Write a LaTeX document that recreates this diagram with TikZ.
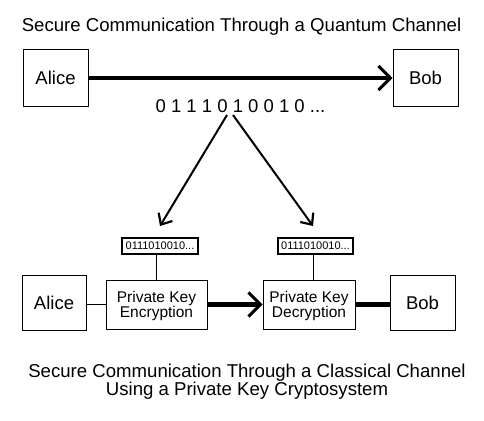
\documentclass[tikz,border=0pt]{standalone}
\usepackage{fontspec}
\setmainfont{Liberation Sans}
\usetikzlibrary{arrows.meta}
\tikzset{
  box/.style={draw, line width=0.9pt, inner sep=0pt, font=\fontsize{18.5}{20}\selectfont},
  procbox/.style={draw, line width=0.9pt, inner sep=0pt, align=center, font=\fontsize{15.5}{15}\selectfont},
  keybox/.style={draw, line width=2pt, inner sep=0pt, minimum width=75pt, minimum height=16pt, font=\fontsize{11}{12}\selectfont},
  titletext/.style={anchor=base, inner sep=0pt, font=\fontsize{18.6}{18}\selectfont, align=center},
  bigarrow/.style={line width=4.5pt, -{Straight Barb[length=12pt,width=24pt,line width=3pt]}},
  midarrow/.style={line width=2pt, -{Straight Barb[length=9pt,width=16pt,line width=2.2pt]}},
  thinline/.style={line width=1pt},
  thickline/.style={line width=5pt}
}
\begin{document}
\begin{tikzpicture}[x=1pt,y=-1pt]
\useasboundingbox (0,0) rectangle (484,420);
% titles
\node[titletext] (t1) at (241.5,32) {Secure Communication Through a Quantum Channel};
\node[titletext] (t2) at (247,395) {Secure Communication Through a Classical Channel\\Using a Private Key Cryptosystem};
% top row
\node[box, minimum width=65pt, minimum height=57pt] (alice1) at (55.5,78) {Alice};
\node[box, minimum width=65pt, minimum height=57pt] (bob1) at (425.5,78) {Bob};
\draw[bigarrow] (alice1.east) -- (bob1.west);
\node[anchor=base, inner sep=0pt, font=\fontsize{18.5}{20}\selectfont] (bits) at (240.5,112) {0 1 1 1 0 1 0 0 1 0 ...};
% arrows down
\coordinate (s1) at (227,115);
\coordinate (s2) at (233,115);
\coordinate (e1) at (160,226);
\coordinate (e2) at (313,226);
\draw[midarrow] (s1) -- (e1);
\draw[midarrow] (s2) -- (e2);
% bottom row
\node[keybox, minimum width=76pt] (key1) at (160,246) {0111010010...};
\node[keybox] (key2) at (315.5,246) {0111010010...};
\node[box, minimum width=64pt, minimum height=55pt] (alice2) at (54,302.5) {Alice};
\node[procbox, minimum width=101pt, minimum height=49pt, text depth=0pt] (enc) at (156.5,304.5) {Private Key\\Encryption};
\node[procbox, minimum width=92pt, minimum height=49pt, text depth=0pt] (dec) at (309,304.5) {Private Key\\Decryption};
\node[box, minimum width=65pt, minimum height=55pt] (bob2) at (422.5,302.5) {Bob};
\coordinate (v2) at (313,0);
\draw[thinline] (enc.north) -- (enc.north |- key1.south);
\draw[thinline] (key2.south -| v2) -- (dec.north -| v2);
\draw[thinline] (alice2.east |- enc.west) -- (enc.west);
\draw[bigarrow, line width=5pt] (enc.east) -- (dec.west);
\draw[thickline] (dec.east) -- (bob2.west |- dec.east);
\end{tikzpicture}
\end{document}
